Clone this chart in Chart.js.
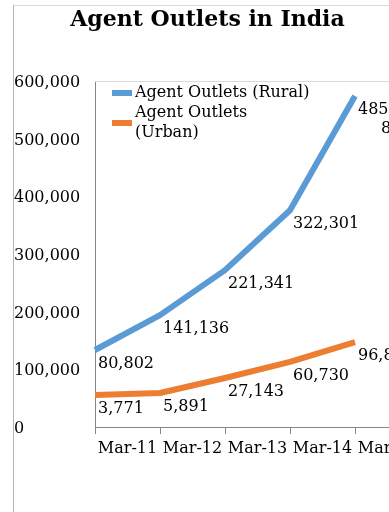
<!DOCTYPE html>
<html><head><meta charset="utf-8">
<script src="https://cdn.jsdelivr.net/npm/chart.js@4"></script>
<style>
html,body{margin:0;padding:0;width:389px;height:512px;overflow:hidden;background:#fff;}
#frame{position:absolute;left:13px;top:5px;width:420px;height:520px;border-left:1px solid #b4b4b4;border-top:1px solid #d9d9d9;}
#wrap{position:absolute;left:14px;top:0;width:421px;height:512px;}
</style></head><body>
<div id="frame"></div>
<div id="wrap"><canvas id="c"></canvas></div>
<script>
// ---- data ----
const categories = ['Mar-11', 'Mar-12', 'Mar-13', 'Mar-14', 'Mar-15', ''];
const seriesNames = ['Agent Outlets (Rural)', 'Agent Outlets (Urban)'];
const ruralValues = [133500, 194000, 272000, 376000, 574000];
const urbanValues = [55500, 59000, 85000, 113000, 147000];
const ruralLabels = ['80,802', '141,136', '221,341', '322,301', ['485,85', '8']];
const urbanLabels = ['3,771', '5,891', '27,143', '60,730', '96,830'];
const legendLines = [['Agent Outlets (Rural)'], ['Agent Outlets', '(Urban)']];
const yTickValues = [0, 100000, 200000, 300000, 400000, 500000, 600000];

const FONT = "'DejaVu Serif', serif";
const AXIS = '#868686';
const colors = ['#5B9BD5', '#ED7D31'];
const pointLabels = [ruralLabels, urbanLabels];

const plotFrame = {
  id: 'plotFrame',
  beforeDatasetsDraw(chart) {
    const {ctx, chartArea: a} = chart;
    ctx.save();
    ctx.strokeStyle = '#d9d9d9';
    ctx.lineWidth = 1;
    ctx.beginPath();
    ctx.moveTo(a.left, a.top + 0.5);
    ctx.lineTo(chart.width, a.top + 0.5);
    ctx.stroke();
    ctx.restore();
  },
  afterLayout(chart) {
    if (chart.titleBlock) { chart.titleBlock.left -= 19; }
  }
};

const dataLabels = {
  id: 'dataLabels',
  afterDatasetsDraw(chart) {
    const ctx = chart.ctx;
    ctx.save();
    ctx.font = '16px ' + FONT;
    ctx.fillStyle = '#000';
    ctx.textBaseline = 'middle';
    ctx.textAlign = 'center';
    chart.data.datasets.forEach((ds, i) => {
      const meta = chart.getDatasetMeta(i);
      meta.data.forEach((pt, j) => {
        const t = pointLabels[i][j];
        const lines = Array.isArray(t) ? t : [t];
        const w0 = ctx.measureText(lines[0]).width;
        const cx = pt.x + 3 + w0 / 2;
        lines.forEach((ln, k) => ctx.fillText(ln, cx, pt.y + 14 + k * 19));
      });
    });
    ctx.restore();
  }
};

const customLegend = {
  id: 'customLegend',
  afterDraw(chart) {
    const {ctx, chartArea: a} = chart;
    ctx.save();
    ctx.font = '16px ' + FONT;
    ctx.fillStyle = '#000';
    ctx.textBaseline = 'middle';
    ctx.textAlign = 'left';
    let y = a.top + 12;
    chart.data.datasets.forEach((ds, i) => {
      const lines = legendLines[i];
      const h = lines.length * 20;
      const cy = y + (h - 20) / 2;
      ctx.fillStyle = ds.borderColor;
      ctx.fillRect(a.left + 17, cy - 3, 20, 6);
      ctx.fillStyle = '#000';
      lines.forEach((ln, k) => ctx.fillText(ln, a.left + 40, y + k * 20));
      y += h;
    });
    ctx.restore();
  }
};

new Chart(document.getElementById('c'), {
  type: 'line',
  data: {
    labels: categories,
    datasets: [
      {label: seriesNames[0], data: ruralValues, borderColor: colors[0], backgroundColor: colors[0]},
      {label: seriesNames[1], data: urbanValues, borderColor: colors[1], backgroundColor: colors[1]}
    ]
  },
  options: {
    responsive: true,
    maintainAspectRatio: false,
    animation: false,
    layout: {padding: {left: 0, right: 15, top: 0, bottom: 55}},
    elements: {
      line: {borderWidth: 6, tension: 0, borderCapStyle: 'butt', borderJoinStyle: 'round'},
      point: {radius: 0, hoverRadius: 0}
    },
    plugins: {
      legend: {display: false},
      tooltip: {enabled: false},
      title: {
        display: true,
        text: 'Agent Outlets in India',
        color: '#000',
        font: {family: FONT, size: 22, weight: 'bold'},
        padding: {top: 7, bottom: 47.6}
      }
    },
    scales: {
      x: {
        offset: false,
        grid: {display: true, drawOnChartArea: false, drawTicks: true, tickLength: 7, color: AXIS, lineWidth: 1},
        border: {display: true, color: AXIS, width: 1},
        ticks: {color: '#000', font: {family: FONT, size: 16}, autoSkip: false, maxRotation: 0, labelOffset: 32.5, padding: 5},
        afterFit(s) { s.height = 30; }
      },
      y: {
        min: 0, max: 600000,
        afterBuildTicks(s) { s.ticks = yTickValues.map(v => ({value: v})); },
        grid: {display: false},
        border: {display: true, color: AXIS, width: 1},
        ticks: {
          color: '#000', font: {family: FONT, size: 16}, crossAlign: 'far', labelOffset: 2,
          callback: v => v.toLocaleString('en-US')
        },
        afterFit(s) { s.width = 81; }
      }
    }
  },
  plugins: [plotFrame, dataLabels, customLegend]
});
</script>
</body></html>
